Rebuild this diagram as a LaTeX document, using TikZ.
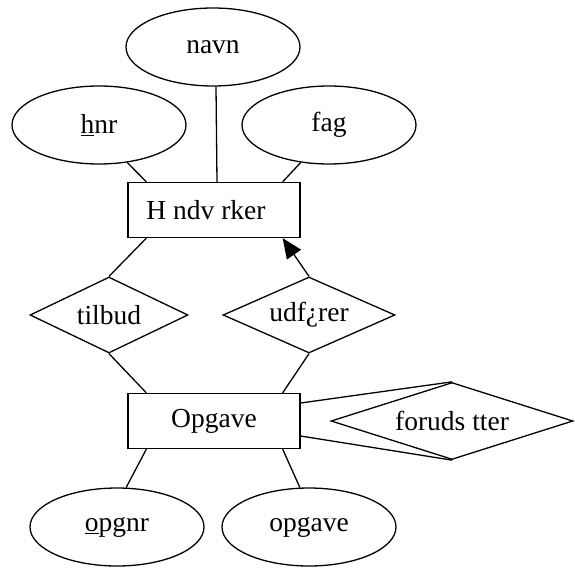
\documentclass[tikz,border=0pt]{standalone}
\usepackage{fontspec}
\setmainfont{Liberation Serif}
\usetikzlibrary{shapes.geometric,arrows.meta}
\begin{document}
\begin{tikzpicture}[x=1pt,y=-1pt,
  every node/.style={font=\fontsize{27.5}{32}\selectfont, inner sep=0pt},
  attr/.style={ellipse, draw, line width=1.3pt, minimum width=174pt, minimum height=78pt},
  ent/.style={rectangle, draw, line width=1.3pt, minimum width=172pt, minimum height=55pt},
  rel/.style={diamond, draw, line width=1.3pt, aspect=2},
  conn/.style={line width=1.3pt}
]
\useasboundingbox (0,0) rectangle (574,575);
\node[attr] (navn) at (213,47) {navn};
\node[attr] (hnr) at (99,125) {\underline{h}nr};
\node[attr] (fag) at (329,125) {fag};
\node[ent] (H) at (214,210) {H ndv rker\hspace*{16pt}};
\node[rel, minimum width=158pt, minimum height=76pt] (tilbud) at (109,315) {tilbud};
\node[rel, minimum width=172pt, minimum height=76pt] (udf) at (309,315) {udf¿rer};
\node[ent] (O) at (214,421) {Opgave};
\node[rel, minimum width=242pt, minimum height=77pt, aspect=3.1] (foru) at (452,421) {foruds tter};
\node[attr] (opgnr) at (117,527) {\underline{o}pgnr};
\node[attr] (opgave) at (309,527) {opgave};

\draw[conn] (hnr.-53) -- ([xshift=19pt]H.north west);
\draw[conn] ([xshift=3pt]navn.south) -- ([xshift=3pt]H.north);
\draw[conn] (fag.-127) -- ([xshift=-18pt]H.north east);
\draw[conn] ([xshift=19pt]H.south west) -- (tilbud.north);
\draw[conn, -{Triangle[length=20pt,width=17pt]}] (udf.north) -- ([xshift=-18pt]H.south east);
\draw[conn] (tilbud.south) -- ([xshift=19pt]O.north west);
\draw[conn] (udf.south) -- ([xshift=-18pt]O.north east);
\draw[conn] ([yshift=18pt]O.east) -- (foru.north);
\draw[conn] ([yshift=-15pt]O.east) -- (foru.south);
\draw[conn] ([xshift=19pt]O.south west) -- (opgnr.77);
\draw[conn] ([xshift=-18pt]O.south east) -- (opgave.103);
\end{tikzpicture}
\end{document}
